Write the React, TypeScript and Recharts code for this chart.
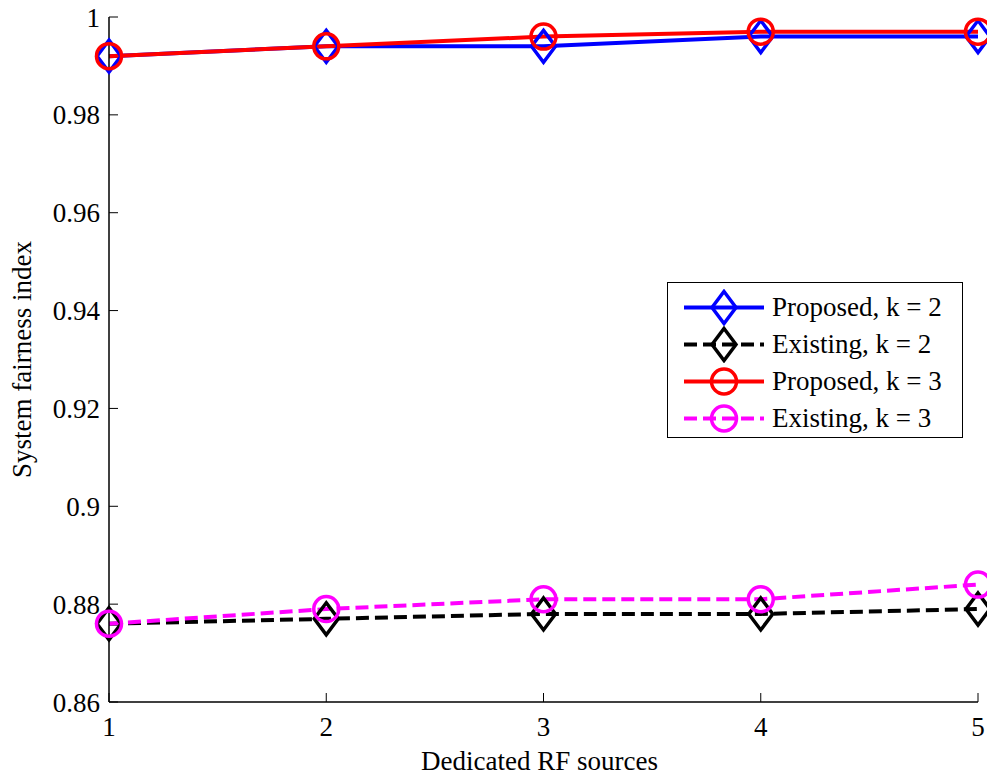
import { LineChart, Line, XAxis, YAxis, Legend } from "recharts";

const sources = [1, 2, 3, 4, 5];
const proposedK2 = [0.992, 0.994, 0.994, 0.996, 0.996];
const existingK2 = [0.876, 0.877, 0.878, 0.878, 0.879];
const proposedK3 = [0.992, 0.994, 0.996, 0.997, 0.997];
const existingK3 = [0.876, 0.879, 0.881, 0.881, 0.884];
const xTicks = [1, 2, 3, 4, 5];
const yTicks = [0.86, 0.88, 0.9, 0.92, 0.94, 0.96, 0.98, 1];

const FONT = "'Liberation Serif', 'Times New Roman', serif";
const FS = 27;

type Series = {
  key: string;
  name: string;
  color: string;
  dash?: string;
  marker: "diamond" | "circle";
};

// plot order matches the original: red drawn over blue, magenta over black
const series: Series[] = [
  { key: "proposedK2", name: "Proposed, k = 2", color: "#0000ff", marker: "diamond" },
  { key: "existingK2", name: "Existing, k = 2", color: "#000000", dash: "13 6", marker: "diamond" },
  { key: "proposedK3", name: "Proposed, k = 3", color: "#ff0000", marker: "circle" },
  { key: "existingK3", name: "Existing, k = 3", color: "#ff00ff", dash: "13 6", marker: "circle" },
];

const data = sources.map((s, i) => ({
  sources: s,
  proposedK2: proposedK2[i],
  existingK2: existingK2[i],
  proposedK3: proposedK3[i],
  existingK3: existingK3[i],
}));

function Marker({ cx, cy, color, marker }: { cx: number; cy: number; color: string; marker: string }) {
  if (marker === "diamond") {
    return (
      <path
        d={`M${cx},${cy - 16}L${cx + 12},${cy}L${cx},${cy + 16}L${cx - 12},${cy}Z`}
        fill="none"
        stroke={color}
        strokeWidth={3.5}
      />
    );
  }
  return <circle cx={cx} cy={cy} r={12.5} fill="none" stroke={color} strokeWidth={3.5} />;
}

function LegendBox() {
  return (
    <div
      style={{
        width: 296,
        height: 156,
        border: "1.5px solid #000",
        background: "#fff",
        fontFamily: FONT,
        fontSize: FS,
        color: "#000",
        paddingTop: 6,
        boxSizing: "border-box",
      }}
    >
      {series.map((s) => (
        <div key={s.key} style={{ display: "flex", alignItems: "center", height: 37 }}>
          <svg width={104} height={37} style={{ flex: "none" }}>
            <line x1={16} x2={96} y1={18.5} y2={18.5} stroke={s.color} strokeWidth={4} strokeDasharray={s.dash} />
            <Marker cx={56} cy={18.5} color={s.color} marker={s.marker} />
          </svg>
          <span style={{ lineHeight: "37px", whiteSpace: "nowrap" }}>{s.name}</span>
        </div>
      ))}
    </div>
  );
}

const tickStyle = { fill: "#000", fontSize: FS, fontFamily: FONT, style: { fontFamily: FONT } };

export default function App() {
  return (
    <div style={{ position: "absolute", left: 0, top: 0, background: "#fff", fontFamily: FONT }}>
      <style>{`.recharts-wrapper text { font-family: ${FONT}; }`}</style>
      <LineChart width={987} height={776} data={data} margin={{ top: 17, right: 9, left: 49, bottom: 44 }}>
        <XAxis
          dataKey="sources"
          type="number"
          domain={[1, 5]}
          ticks={xTicks}
          height={30}
          tickSize={-9}
          tickMargin={24}
          axisLine={{ stroke: "#000", strokeWidth: 1.5 }}
          tickLine={{ stroke: "#000", strokeWidth: 1 }}
          tick={tickStyle}
          label={(props: any) => {
            const vb = props.viewBox;
            return (
              <text
                x={vb.x + vb.width / 2 - 4}
                y={vb.y + 68}
                textAnchor="middle"
                fontFamily={FONT}
                fontSize={FS}
                fill="#000"
              >
                Dedicated RF sources
              </text>
            );
          }}
        />
        <XAxis
          xAxisId="top"
          orientation="top"
          type="number"
          domain={[1, 5]}
          ticks={xTicks}
          height={0}
          mirror
          tick={false}
          tickSize={9}
          axisLine={{ stroke: "#000", strokeWidth: 1.5 }}
          tickLine={{ stroke: "#000", strokeWidth: 1 }}
        />
        <YAxis
          type="number"
          domain={[0.86, 1]}
          ticks={yTicks}
          width={60}
          tickSize={-9}
          tickMargin={18}
          tickFormatter={(v: number) => String(v)}
          axisLine={{ stroke: "#000", strokeWidth: 1.5 }}
          tickLine={{ stroke: "#000", strokeWidth: 1 }}
          tick={tickStyle}
          label={(props: any) => {
            const vb = props.viewBox;
            const x = vb.x - 27;
            const y = vb.y + vb.height / 2;
            return (
              <text
                x={x}
                y={y}
                transform={`rotate(-90 ${x} ${y})`}
                textAnchor="middle"
                dominantBaseline="central"
                fontFamily={FONT}
                fontSize={FS}
                fill="#000"
              >
                System fairness index
              </text>
            );
          }}
        />
        <YAxis
          yAxisId="right"
          orientation="right"
          type="number"
          domain={[0.86, 1]}
          ticks={yTicks}
          width={0}
          mirror
          tick={false}
          tickSize={9}
          axisLine={{ stroke: "#000", strokeWidth: 1.5 }}
          tickLine={{ stroke: "#000", strokeWidth: 1 }}
        />
        <Legend
          layout="vertical"
          align="center"
          verticalAlign="middle"
          wrapperStyle={{ left: 667, top: 282, width: 296 }}
          content={() => <LegendBox />}
        />
        {series.map((s) => (
          <Line
            key={s.key}
            dataKey={s.key}
            name={s.name}
            type="linear"
            stroke={s.color}
            strokeWidth={4}
            strokeDasharray={s.dash}
            isAnimationActive={false}
            activeDot={false}
            dot={(p: any) => (
              <Marker key={`${s.key}-${p.index}`} cx={p.cx} cy={p.cy} color={s.color} marker={s.marker} />
            )}
          />
        ))}
      </LineChart>
    </div>
  );
}
